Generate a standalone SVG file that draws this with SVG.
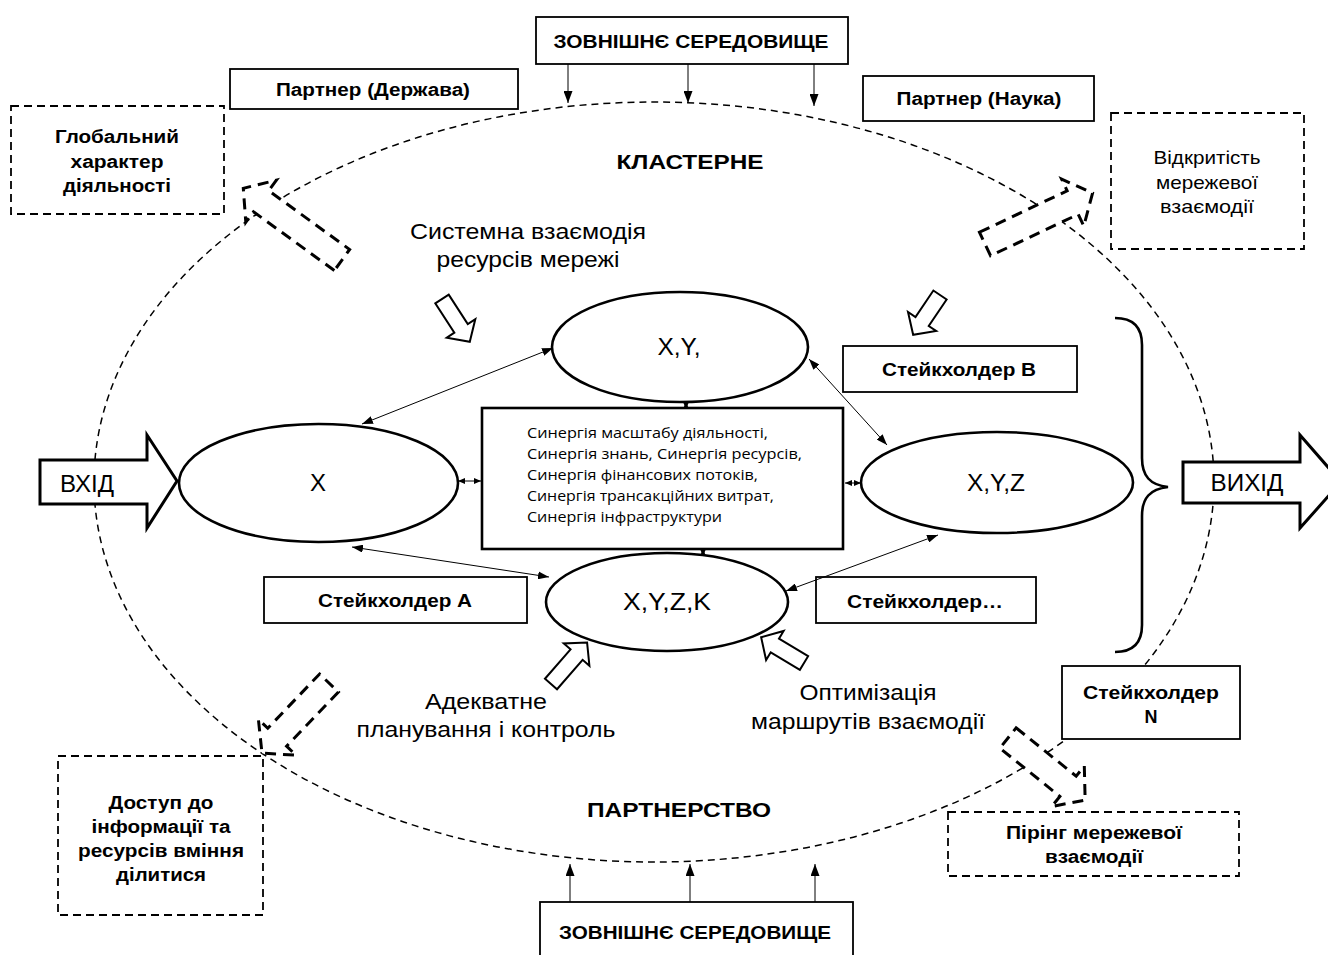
<svg xmlns="http://www.w3.org/2000/svg" width="1328" height="955" viewBox="0 0 1328 955">
<defs>
<style>
.bx{fill:#fff;stroke:#000;stroke-width:1.8}
.dbx{fill:#fff;stroke:#000;stroke-width:1.8;stroke-dasharray:8 5}
.ov{fill:#fff;stroke:#000;stroke-width:2.6}
.darr{fill:#fff;stroke:#000;stroke-width:3;stroke-dasharray:11 7}
.harr{fill:#fff;stroke:#000;stroke-width:2}
.big{fill:#fff;stroke:#000;stroke-width:3}
.ln{fill:none;stroke:#000;stroke-width:1}
.b{font-family:"Liberation Sans",Arial,sans-serif;font-weight:bold;font-size:18px;text-anchor:middle;fill:#000}
.n{font-family:"Liberation Sans",Arial,sans-serif;font-size:22px;text-anchor:middle;fill:#000}
.e{font-family:"Liberation Sans",Arial,sans-serif;font-size:24px;text-anchor:middle;fill:#000}
.c{font-family:"Open Sans","Noto Sans",sans-serif;font-size:15px;fill:#000}
</style>
<marker id="ah" markerUnits="userSpaceOnUse" markerWidth="11" markerHeight="8" refX="11" refY="4" orient="auto-start-reverse"><path d="M0,0 L11,4 L0,8 Z" fill="#000"/></marker>
<marker id="as" markerUnits="userSpaceOnUse" markerWidth="7" markerHeight="6" refX="7" refY="3" orient="auto-start-reverse"><path d="M0,0 L7,3 L0,6 Z" fill="#000"/></marker>
<marker id="av" markerUnits="userSpaceOnUse" markerWidth="12" markerHeight="9" refX="12" refY="4.5" orient="auto"><path d="M0,0 L12,4.5 L0,9 Z" fill="#000"/></marker>
</defs>
<rect width="1328" height="955" fill="#fff"/>

<g id="cluster-boundary">
<ellipse cx="654" cy="482" rx="560" ry="380" fill="none" stroke="#000" stroke-width="1.5" stroke-dasharray="7 5"/>
</g>

<g id="env-top">
<rect class="bx" x="536" y="17" width="312" height="47"/>
<text class="b" x="691" y="48" textLength="275" lengthAdjust="spacingAndGlyphs">ЗОВНІШНЄ  СЕРЕДОВИЩЕ</text>
</g>
<g id="env-bottom">
<rect class="bx" x="540" y="902" width="313" height="70"/>
<text class="b" x="695" y="939" textLength="272" lengthAdjust="spacingAndGlyphs">ЗОВНІШНЄ  СЕРЕДОВИЩЕ</text>
</g>

<g id="partner-state">
<rect class="bx" x="230" y="69" width="288" height="40"/>
<text class="b" x="373" y="96" textLength="194" lengthAdjust="spacingAndGlyphs">Партнер (Держава)</text>
</g>
<g id="partner-science">
<rect class="bx" x="863" y="76" width="231" height="45"/>
<text class="b" x="979" y="105" textLength="165" lengthAdjust="spacingAndGlyphs">Партнер (Наука)</text>
</g>

<g id="global">
<rect class="dbx" x="11" y="106" width="213" height="108"/>
<text class="b" x="117" y="143" textLength="124" lengthAdjust="spacingAndGlyphs">Глобальний</text>
<text class="b" x="117" y="168" textLength="93" lengthAdjust="spacingAndGlyphs">характер</text>
<text class="b" x="117" y="192" textLength="108" lengthAdjust="spacingAndGlyphs">діяльності</text>
</g>
<g id="openness">
<rect class="dbx" x="1111" y="113" width="193" height="136"/>
<text class="n" x="1207" y="164" style="font-size:19px" textLength="107" lengthAdjust="spacingAndGlyphs">Відкритість</text>
<text class="n" x="1207" y="189" style="font-size:19px" textLength="102" lengthAdjust="spacingAndGlyphs">мережевої</text>
<text class="n" x="1207" y="213" style="font-size:19px" textLength="94" lengthAdjust="spacingAndGlyphs">взаємодії</text>
</g>
<g id="access">
<rect class="dbx" x="58" y="756" width="205" height="159"/>
<text class="b" x="161" y="809" textLength="105" lengthAdjust="spacingAndGlyphs">Доступ до</text>
<text class="b" x="161" y="833" textLength="139" lengthAdjust="spacingAndGlyphs">інформації та</text>
<text class="b" x="161" y="857" textLength="166" lengthAdjust="spacingAndGlyphs">ресурсів вміння</text>
<text class="b" x="161" y="881" textLength="90" lengthAdjust="spacingAndGlyphs">ділитися</text>
</g>
<g id="peering">
<rect class="dbx" x="948" y="812" width="291" height="64"/>
<text class="b" x="1094" y="839" textLength="176" lengthAdjust="spacingAndGlyphs">Пірінг мережевої</text>
<text class="b" x="1094" y="863" textLength="98" lengthAdjust="spacingAndGlyphs">взаємодії</text>
</g>

<g id="titles">
<text class="b" x="690" y="169" style="font-size:21px" textLength="147" lengthAdjust="spacingAndGlyphs">КЛАСТЕРНЕ</text>
<text class="b" x="679" y="817" style="font-size:21px" textLength="184" lengthAdjust="spacingAndGlyphs">ПАРТНЕРСТВО</text>
<text class="n" x="528" y="239" textLength="236" lengthAdjust="spacingAndGlyphs">Системна взаємодія</text>
<text class="n" x="528" y="267" textLength="183" lengthAdjust="spacingAndGlyphs">ресурсів мережі</text>
<text class="n" x="486" y="709" textLength="122" lengthAdjust="spacingAndGlyphs">Адекватне</text>
<text class="n" x="486" y="737" textLength="259" lengthAdjust="spacingAndGlyphs">планування і контроль</text>
<text class="n" x="868" y="700" textLength="137" lengthAdjust="spacingAndGlyphs">Оптимізація</text>
<text class="n" x="868" y="729" textLength="234" lengthAdjust="spacingAndGlyphs">маршрутів взаємодії</text>
</g>

<g id="dashed-arrows">
<path class="darr" transform="translate(342,260) rotate(-144)" d="M0,-13 H100 V-26 L122,0 L100,26 V13 H0 Z"/>
<path class="darr" transform="translate(985,244) rotate(-25.3)" d="M0,-13 H97 V-26 L119,0 L97,26 V13 H0 Z"/>
<path class="darr" transform="translate(329,683) rotate(133.7)" d="M0,-13 H75 V-26 L97,0 L75,26 V13 H0 Z"/>
<path class="darr" transform="translate(1008,738) rotate(38.8)" d="M0,-13 H77 V-26 L99,0 L77,26 V13 H0 Z"/>
</g>

<g id="input">
<path class="big" d="M40,460 H147 V435 L177,481 L147,528 V504 H40 Z"/>
<text class="n" x="87" y="492" style="font-size:23px" textLength="54" lengthAdjust="spacingAndGlyphs">ВХІД</text>
</g>
<g id="output">
<path class="big" d="M1183,462 H1300 V435 L1341,482 L1300,528 V503 H1183 Z"/>
<text class="n" x="1247" y="491" style="font-size:23px" textLength="73" lengthAdjust="spacingAndGlyphs">ВИХІД</text>
</g>
<g id="brace">
<path d="M1115,318 C1134,318 1142,328 1142,345 V458 C1142,476 1150,485 1168,487 C1150,489 1142,498 1142,516 V625 C1142,642 1134,652 1115,652" fill="none" stroke="#000" stroke-width="2.6"/>
</g>

<g id="stake-b">
<rect class="bx" x="843" y="346" width="234" height="46"/>
<text class="b" x="959" y="376" textLength="154" lengthAdjust="spacingAndGlyphs">Стейкхолдер В</text>
</g>
<g id="stake-a">
<rect class="bx" x="264" y="577" width="263" height="46"/>
<text class="b" x="395" y="607" textLength="154" lengthAdjust="spacingAndGlyphs">Стейкхолдер А</text>
</g>
<g id="stake-etc">
<rect class="bx" x="816" y="577" width="220" height="46"/>
<text class="b" x="925" y="608" textLength="156" lengthAdjust="spacingAndGlyphs">Стейкхолдер…</text>
</g>
<g id="stake-n">
<rect class="bx" x="1062" y="666" width="178" height="73"/>
<text class="b" x="1151" y="699" textLength="136" lengthAdjust="spacingAndGlyphs">Стейкхолдер</text>
<text class="b" x="1151" y="723">N</text>
</g>

<g id="synergy">
<rect x="482" y="408" width="361" height="141" fill="#fff" stroke="#000" stroke-width="2.6"/>
<text class="c" x="527" y="438" textLength="241" lengthAdjust="spacingAndGlyphs">Синергія масштабу діяльності,</text>
<text class="c" x="527" y="459" textLength="275" lengthAdjust="spacingAndGlyphs">Синергія знань,  Синергія ресурсів,</text>
<text class="c" x="527" y="480" textLength="231" lengthAdjust="spacingAndGlyphs">Синергія фінансових потоків,</text>
<text class="c" x="527" y="501" textLength="247" lengthAdjust="spacingAndGlyphs">Синергія трансакційних витрат,</text>
<text class="c" x="527" y="522" textLength="195" lengthAdjust="spacingAndGlyphs">Синергія інфраструктури</text>
</g>

<g id="node-xy">
<ellipse class="ov" cx="680" cy="347" rx="128" ry="55"/>
<text class="e" x="679" y="355" textLength="43" lengthAdjust="spacingAndGlyphs">X,Y,</text>
</g>
<g id="node-x">
<ellipse class="ov" cx="318.5" cy="483" rx="139.5" ry="59"/>
<text class="e" x="318" y="491">X</text>
</g>
<g id="node-xyz">
<ellipse class="ov" cx="997" cy="482.5" rx="136" ry="50.5"/>
<text class="e" x="996" y="491" textLength="58" lengthAdjust="spacingAndGlyphs">X,Y,Z</text>
</g>
<g id="node-xyzk">
<ellipse class="ov" cx="667" cy="602" rx="121" ry="49"/>
<text class="e" x="667" y="610" textLength="88" lengthAdjust="spacingAndGlyphs">X,Y,Z,K</text>
</g>

<g id="hollow-arrows">
<path class="harr" transform="translate(442,299) rotate(57)" d="M0,-8 H35 V-17 L51,0 L35,17 V8 H0 Z"/>
<path class="harr" transform="translate(940,295) rotate(124)" d="M0,-8 H32 V-17 L48,0 L32,17 V8 H0 Z"/>
<path class="harr" transform="translate(551,684) rotate(-49)" d="M0,-8 H39 V-17 L55,0 L39,17 V8 H0 Z"/>
<path class="harr" transform="translate(804,663) rotate(-149)" d="M0,-8 H34 V-17 L50,0 L34,17 V8 H0 Z"/>
</g>

<g id="connectors">
<line class="ln" x1="568" y1="64" x2="568" y2="103" marker-end="url(#av)"/>
<line class="ln" x1="688" y1="64" x2="688" y2="103" marker-end="url(#av)"/>
<line class="ln" x1="814" y1="64" x2="814" y2="106" marker-end="url(#av)"/>
<line class="ln" x1="570" y1="902" x2="570" y2="864" marker-end="url(#av)"/>
<line class="ln" x1="690" y1="902" x2="690" y2="864" marker-end="url(#av)"/>
<line class="ln" x1="815" y1="902" x2="815" y2="864" marker-end="url(#av)"/>
<line class="ln" x1="362" y1="424" x2="553" y2="348" marker-start="url(#ah)" marker-end="url(#ah)"/>
<line class="ln" x1="352" y1="547" x2="549" y2="577" marker-start="url(#ah)" marker-end="url(#ah)"/>
<line class="ln" x1="809" y1="359" x2="887" y2="445" marker-start="url(#ah)" marker-end="url(#ah)"/>
<line class="ln" x1="938" y1="535" x2="786" y2="591" marker-start="url(#ah)" marker-end="url(#ah)"/>
<line class="ln" x1="458" y1="481" x2="481" y2="481" marker-start="url(#as)" marker-end="url(#as)"/>
<line class="ln" x1="845" y1="483" x2="861" y2="483" marker-start="url(#as)" marker-end="url(#as)"/>
<line class="ln" x1="686" y1="402" x2="686" y2="409" marker-start="url(#as)" marker-end="url(#as)"/>
<line class="ln" x1="703" y1="549" x2="703" y2="556" marker-start="url(#as)" marker-end="url(#as)"/>
</g>
</svg>
